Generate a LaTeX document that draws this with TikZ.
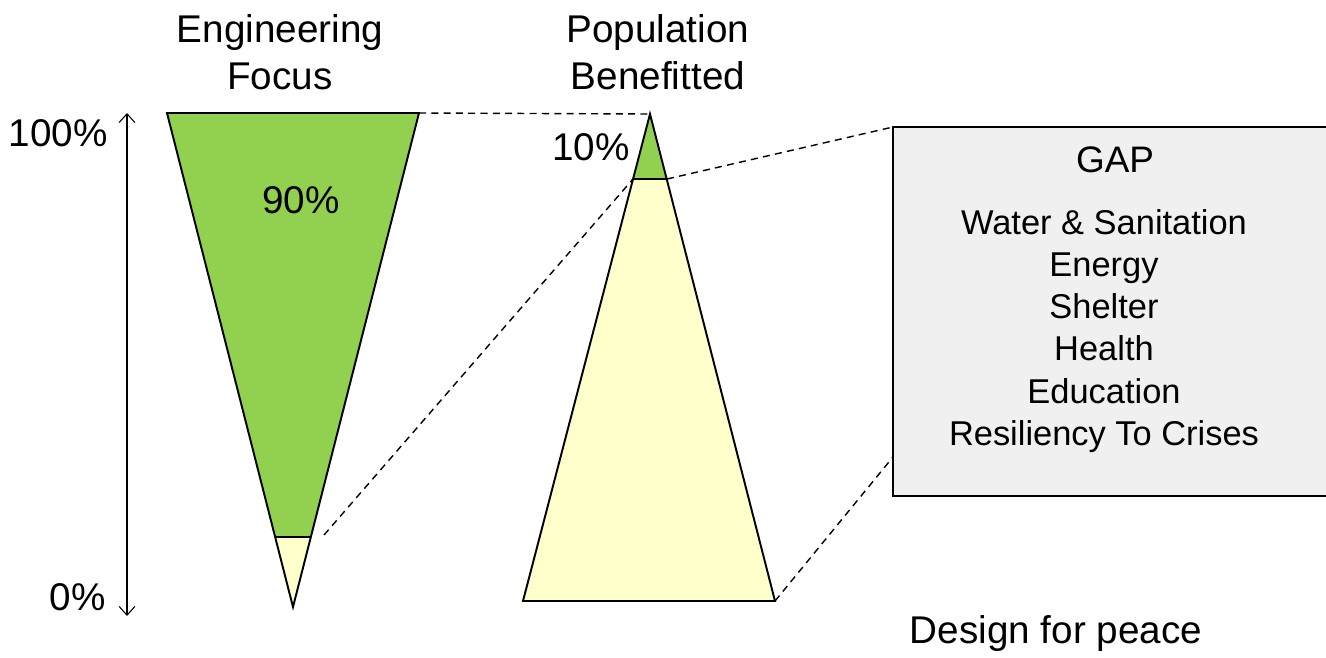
\documentclass[tikz,border=0pt]{standalone}
\usepackage{fontspec}
\setmainfont{Liberation Sans}
\usetikzlibrary{arrows.meta}
\definecolor{leaf}{HTML}{92D050}
\definecolor{cream}{HTML}{FFFFCC}
\definecolor{boxgray}{HTML}{F0F0F0}
\begin{document}
\begin{tikzpicture}[x=0.02cm,y=-0.02cm,
  outline/.style={draw=black,line width=1.1pt,line join=miter},
  link/.style={draw=black,line width=0.8pt,dash pattern=on 4pt off 3pt},
  big/.style={font=\fontsize{22}{26.6}\selectfont,inner sep=0pt},
  boxtext/.style={font=\fontsize{19.6}{24}\selectfont,inner sep=0pt,align=center}]
\useasboundingbox (0,0) rectangle (1326,657);
% left (inverted) triangle
\coordinate (LTL) at (167,113);
\coordinate (LTR) at (419,113);
\coordinate (LA) at (293,607);
\coordinate (LGL) at (275,537);
\coordinate (LGR) at (311,537);
\fill[cream] (LGL) -- (LGR) -- (LA) -- cycle;
\fill[leaf] (LTL) -- (LTR) -- (LGR) -- (LGL) -- cycle;
\draw[outline] (LGL) -- (LGR);
\draw[outline] (LTL) -- (LTR) -- (LA) -- cycle;
% right triangle
\coordinate (RA) at (650,114);
\coordinate (RBL) at (523,601);
\coordinate (RBR) at (775,601);
\coordinate (RGL) at (633,179);
\coordinate (RGR) at (667,179);
\fill[cream] (RGL) -- (RGR) -- (RBR) -- (RBL) -- cycle;
\fill[leaf] (RA) -- (RGR) -- (RGL) -- cycle;
\draw[outline] (RGL) -- (RGR);
\draw[outline] (RA) -- (RBR) -- (RBL) -- cycle;
% gap box
\coordinate (BTL) at (893,127);
\coordinate (BBL) at (893,496);
\coordinate (BLK) at (893,457);
\fill[boxgray] (893,127) rectangle (1326,496);
\draw[black,line width=0.9pt] (1327,127) -- (BTL) -- (BBL) -- (1327,496);
% dashed connectors
\draw[link] (LTR) -- (RA);
\draw[link] (324,535) -- (RGL);
\draw[link] (RGR) -- (BTL);
\draw[link] (RBR) -- (BLK);
% vertical scale arrow
\coordinate (AT) at (127,113);
\coordinate (AB) at (127,616);
\draw[line width=0.6pt,{Straight Barb[length=5pt,width=9pt]}-{Straight Barb[length=5pt,width=9pt]}] (AT) -- (AB);
% labels
\node[big,anchor=east] (p100) at (108,133) {100\%};
\node[big,anchor=east] (p0) at (106,597) {0\%};
\node[big] (p90) at (301,200) {90\%};
\node[big] (p10) at (591,147) {10\%};
\node[big,align=center] (eng) at (280,52) {Engineering\\Focus};
\node[big,align=center] (pop) at (658,52) {Population\\Benefitted};
\node[boxtext,font=\fontsize{21}{24}\selectfont] (gap) at (1115,160) {GAP};
\node[boxtext] (list) at (1104,331) {Water \& Sanitation\\Energy\\Shelter\\Health\\Education\\Resiliency To Crises};
\node[big] (dfp) at (1056,633) {Design for peace};
\end{tikzpicture}
\end{document}
